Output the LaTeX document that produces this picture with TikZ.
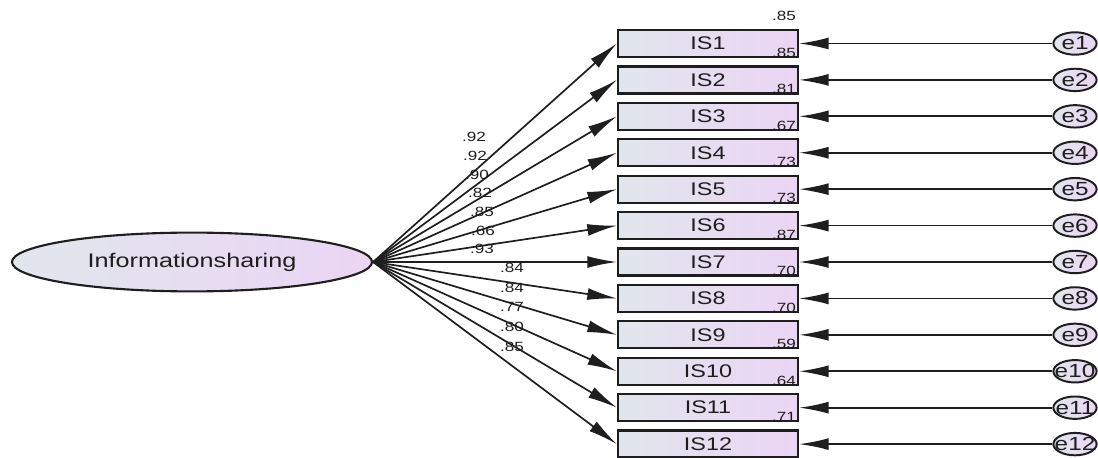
\documentclass[tikz,border=0pt]{standalone}
\usepackage{fontspec}
\setmainfont{Liberation Sans}[FakeStretch=1.28]
\usepackage{xcolor}
\usepackage{tikz}
\usetikzlibrary{shapes, arrows.meta, positioning}

\definecolor{fillleft}{HTML}{E1E6ED}
\definecolor{fillright}{HTML}{EBD5F4}
\definecolor{ink}{HTML}{1E1E1E}

\begin{document}
\begin{tikzpicture}[
   x=0.025cm, y=-0.025cm,
   latent/.style={ellipse, draw=ink, line width=1.5pt, left color=fillleft, right color=fillright, minimum width=9cm, minimum height=1.47cm, inner sep=0pt, text=ink, font=\fontsize{14}{16}\selectfont},
   item/.style={rectangle, draw=ink, line width=1.6pt, left color=fillleft, right color=fillright, minimum width=4.5cm, minimum height=0.675cm, inner sep=0pt, text=ink, font=\fontsize{13}{15}\selectfont},
   err/.style={ellipse, draw=ink, line width=1.4pt, left color=fillleft, right color=fillright, minimum width=1.08cm, minimum height=0.56cm, inner sep=0pt, text=ink, font=\fontsize{13.5}{15}\selectfont},
   coef/.style={inner sep=0pt, text=ink, font=\fontsize{9.5}{11}\selectfont},
   rsq/.style={coef, anchor=south east},
   path/.style={-{Latex[length=21pt, width=8.5pt]}, draw=ink, line width=1.2pt},
   node distance=0.179cm and 6.33cm
]
   \useasboundingbox (0,0) rectangle (1098,458);

   % Factor
   \node[latent] (fac) at (192,262) {Informationsharing};

   % Items
   \node[item] (is1) at (708,43.5) {IS1};
   \node[item, below=of is1] (is2) {IS2};
   \node[item, below=of is2] (is3) {IS3};
   \node[item, below=of is3] (is4) {IS4};
   \node[item, below=of is4] (is5) {IS5};
   \node[item, below=of is5] (is6) {IS6};
   \node[item, below=of is6] (is7) {IS7};
   \node[item, below=of is7] (is8) {IS8};
   \node[item, below=of is8] (is9) {IS9};
   \node[item, below=of is9] (is10) {IS10};
   \node[item, below=of is10] (is11) {IS11};
   \node[item, below=of is11] (is12) {IS12};

   % Errors
   \node[err, right=of is1] (e1) {\makebox[0pt]{e1}};
   \node[err, right=of is2] (e2) {\makebox[0pt]{e2}};
   \node[err, right=of is3] (e3) {\makebox[0pt]{e3}};
   \node[err, right=of is4] (e4) {\makebox[0pt]{e4}};
   \node[err, right=of is5] (e5) {\makebox[0pt]{e5}};
   \node[err, right=of is6] (e6) {\makebox[0pt]{e6}};
   \node[err, right=of is7] (e7) {\makebox[0pt]{e7}};
   \node[err, right=of is8] (e8) {\makebox[0pt]{e8}};
   \node[err, right=of is9] (e9) {\makebox[0pt]{e9}};
   \node[err, right=of is10] (e10) {\makebox[0pt]{e10}};
   \node[err, right=of is11] (e11) {\makebox[0pt]{e11}};
   \node[err, right=of is12] (e12) {\makebox[0pt]{e12}};

   % Loadings
   \draw[path] (fac.east) -- (is1.west);
   \draw[path] (fac.east) -- (is2.west);
   \draw[path] (fac.east) -- (is3.west);
   \draw[path] (fac.east) -- (is4.west);
   \draw[path] (fac.east) -- (is5.west);
   \draw[path] (fac.east) -- (is6.west);
   \draw[path] (fac.east) -- (is7.west);
   \draw[path] (fac.east) -- (is8.west);
   \draw[path] (fac.east) -- (is9.west);
   \draw[path] (fac.east) -- (is10.west);
   \draw[path] (fac.east) -- (is11.west);
   \draw[path] (fac.east) -- (is12.west);

   \node[coef] (w1) at (474,137) {.92};
   \node[coef] (w2) at (475,156) {.92};
   \node[coef] (w3) at (477,175) {.90};
   \node[coef] (w4) at (480,193) {.82};
   \node[coef] (w5) at (482,212) {.85};
   \node[coef] (w6) at (483,231) {.66};
   \node[coef] (w7) at (482,249) {.93};
   \node[coef] (w8) at (512,268) {.84};
   \node[coef] (w9) at (512,288) {.84};
   \node[coef] (w10) at (512,307) {.77};
   \node[coef] (w11) at (512,327) {.80};
   \node[coef] (w12) at (512,347) {.85};

   % Error paths
   \draw[path] (e1.west) -- (is1.east);
   \draw[path] (e2.west) -- (is2.east);
   \draw[path] (e3.west) -- (is3.east);
   \draw[path] (e4.west) -- (is4.east);
   \draw[path] (e5.west) -- (is5.east);
   \draw[path] (e6.west) -- (is6.east);
   \draw[path] (e7.west) -- (is7.east);
   \draw[path] (e8.west) -- (is8.east);
   \draw[path] (e9.west) -- (is9.east);
   \draw[path] (e10.west) -- (is10.east);
   \draw[path] (e11.west) -- (is11.east);
   \draw[path] (e12.west) -- (is12.east);

   % Squared multiple correlations
   \node[rsq, above left=0.19cm and 0.075cm of is1.north east] (r1) {.85};
   \node[rsq, above left=0.19cm and 0.075cm of is2.north east] (r2) {.85};
   \node[rsq, above left=0.19cm and 0.075cm of is3.north east] (r3) {.81};
   \node[rsq, above left=0.19cm and 0.075cm of is4.north east] (r4) {.67};
   \node[rsq, above left=0.19cm and 0.075cm of is5.north east] (r5) {.73};
   \node[rsq, above left=0.19cm and 0.075cm of is6.north east] (r6) {.73};
   \node[rsq, above left=0.19cm and 0.075cm of is7.north east] (r7) {.87};
   \node[rsq, above left=0.19cm and 0.075cm of is8.north east] (r8) {.70};
   \node[rsq, above left=0.19cm and 0.075cm of is9.north east] (r9) {.70};
   \node[rsq, above left=0.19cm and 0.075cm of is10.north east] (r10) {.59};
   \node[rsq, above left=0.19cm and 0.075cm of is11.north east] (r11) {.64};
   \node[rsq, above left=0.19cm and 0.075cm of is12.north east] (r12) {.71};
\end{tikzpicture}
\end{document}
